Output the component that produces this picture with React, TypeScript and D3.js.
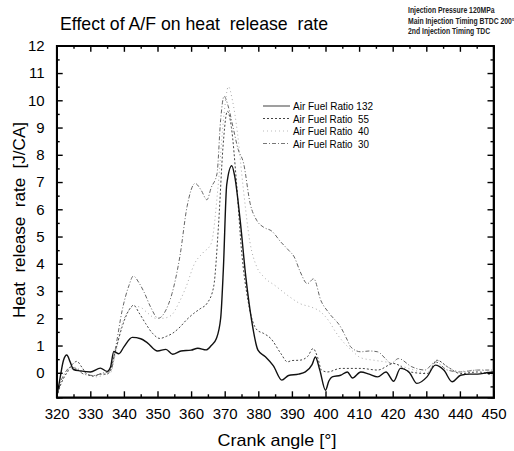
import React, { useEffect, useRef } from 'react';
import * as d3 from 'd3';

// crank angle [deg] / heat release rate [J/CA]
const afr132Deg = [320, 321, 322, 323, 324, 325, 327, 330, 333, 335, 336, 337, 338.5, 340, 342.5, 345, 347, 350, 352.5, 354.5, 357, 360, 362, 364.5, 366, 367.5, 368.8, 369.6, 370.6, 372.1, 373, 374.6, 376.3, 378, 379.9, 382, 384.5, 387, 389, 392, 394, 396, 397, 398.3, 400, 401, 402, 404.5, 406.5, 408, 410.5, 413, 415.5, 418, 420.3, 422.3, 425, 427.2, 430.2, 432.7, 435.2, 437.7, 440.2, 443, 445.3, 448, 450];
const afr132Val = [-0.9, -0.2, 0.45, 0.65, 0.4, 0.12, 0.07, 0.03, 0.17, 0.05, 0.2, 0.78, 0.7, 0.95, 1.3, 1.25, 1.1, 0.8, 0.86, 0.68, 0.8, 0.83, 0.9, 0.84, 1.0, 1.25, 2.0, 3.8, 6.9, 7.6, 7.2, 5.6, 3.5, 1.93, 0.83, 0.6, 0.25, -0.27, -0.1, -0.05, 0.03, 0.3, 0.58, 0.1, -0.64, -0.3, -0.15, -0.09, 0.03, -0.19, 0.03, -0.05, -0.15, 0.03, -0.31, 0.16, 0.0, -0.39, -0.15, 0.28, 0.1, -0.33, -0.09, -0.05, -0.05, 0.0, 0.03];

const afr55Deg = [320, 321, 323, 325, 326, 327.5, 329, 331, 333, 335, 336, 337.5, 339.5, 341.5, 342.9, 344.5, 346.5, 348.5, 350.7, 352.7, 354.5, 356.7, 358.7, 360.7, 362.7, 364.7, 366.7, 368.2, 369.5, 370.8, 372, 373.5, 375, 377, 379.7, 381.5, 383.7, 386.7, 388.7, 390, 392.3, 394.7, 396.3, 397.7, 398.8, 400.6, 404.5, 410.5, 415.5, 420.3, 425.3, 430.3, 433.2, 436.3, 440.2, 445.3, 449.5];
const afr55Val = [-0.9, -0.5, 0.0, 0.35, 0.42, 0.2, -0.05, -0.12, -0.05, -0.05, 0.1, 0.8, 1.7, 2.3, 2.48, 2.2, 1.8, 1.45, 1.26, 1.34, 1.45, 1.68, 1.95, 2.17, 2.35, 2.54, 3.15, 5.5, 8.3, 9.6, 9.0, 7.0, 4.5, 2.6, 1.56, 1.45, 1.26, 0.71, 0.4, 0.45, 0.46, 0.6, 0.89, 0.55, 0.1, 0.03, 0.16, 0.16, 0.1, 0.34, 0.03, -0.03, 0.46, 0.22, -0.03, 0.03, -0.09];

const afr40Deg = [320, 321.5, 323.5, 325.5, 327, 329.5, 332, 334.5, 336, 337.5, 339.5, 341.5, 343, 345, 347, 349.5, 351.5, 354, 356.5, 358.5, 361, 363.5, 366, 368, 369.8, 371.1, 372.3, 373.8, 375.5, 377.5, 379.5, 381.7, 385, 389.4, 392.4, 396, 398.4, 401, 403, 405.5, 408, 410.5, 415, 420, 425, 430, 433.2, 436.5, 440, 445, 449.5];
const afr40Val = [-0.9, -0.3, 0.05, 0.2, 0.1, -0.1, -0.15, -0.05, 0.0, 0.7, 1.8, 2.3, 2.45, 2.4, 2.2, 2.0, 2.0, 2.1, 2.6, 3.15, 4.0, 4.4, 4.75, 6.8, 9.5, 10.5, 10.0, 8.8, 6.8, 4.8, 3.9, 3.51, 3.2, 2.78, 2.54, 2.4, 2.25, 1.9, 1.5, 1.1, 0.8, 0.55, 0.45, 0.35, 0.15, 0.0, 0.45, 0.2, 0.05, 0.1, 0.05];

const afr30Deg = [320, 321, 322.5, 324, 326, 328, 331, 334, 336, 337.5, 339.5, 341.5, 342.8, 344.5, 346, 348, 350.2, 352.5, 354.3, 356.7, 358.8, 361.2, 363, 364.7, 366, 367.7, 368.8, 369.8, 371, 372.5, 374, 375.6, 377.6, 379.5, 381.6, 384, 386.7, 389, 390.7, 392.5, 394.6, 396.5, 398.6, 401, 404.5, 406.5, 407.5, 410.5, 413, 415.5, 418, 419.5, 421.7, 425.7, 429.6, 432.7, 436.3, 440.2, 445.3, 449.5];
const afr30Val = [-0.9, -0.4, 0.0, 0.2, 0.15, -0.05, -0.1, 0.0, 0.05, 0.9, 2.3, 3.2, 3.55, 3.3, 2.96, 2.4, 2.0, 2.3, 2.9, 4.3, 6.1, 6.95, 6.7, 6.35, 6.8, 7.3, 9.3, 10.15, 9.8, 9.0, 8.2, 7.7, 6.2, 5.6, 5.34, 5.2, 4.8, 4.5, 4.25, 3.7, 3.27, 3.45, 2.66, 2.2, 1.68, 1.2, 0.95, 0.77, 0.8, 0.77, 0.5, 0.34, 0.52, 0.22, 0.1, 0.4, 0.1, 0.03, 0.1, 0.1];

const seriesNames = ['Air Fuel Ratio 132', 'Air Fuel Ratio  55', 'Air Fuel Ratio  40', 'Air Fuel Ratio  30'];
const xTicks = [320, 330, 340, 350, 360, 370, 380, 390, 400, 410, 420, 430, 440, 450];
const yTicks = [0, 1, 2, 3, 4, 5, 6, 7, 8, 9, 10, 11, 12];
const notes = ['Injection Pressure 120MPa', 'Main Injection Timing BTDC 200°', '2nd Injection Timing TDC'];

const FONT = 'Liberation Sans, Arial, sans-serif';

function App() {
  const svgRef = useRef(null);

  useEffect(() => {
    const svg = d3.select(svgRef.current);
    svg.selectAll('*').remove();

    const x = d3.scaleLinear().domain([320, 450]).range([56.7, 493.5]);
    const y = d3.scaleLinear().domain([-0.9, 12]).range([397.3, 45.8]);

    const series = [
      { deg: afr132Deg, val: afr132Val, color: '#111', width: 1.4, dash: null, legendColor: '#888' },
      { deg: afr55Deg, val: afr55Val, color: '#444', width: 1, dash: '2,2', legendColor: '#444' },
      { deg: afr40Deg, val: afr40Val, color: '#aaa', width: 1, dash: '1,3', legendColor: '#bbb' },
      { deg: afr30Deg, val: afr30Val, color: '#666', width: 1, dash: '4,2,1,2', legendColor: '#777' },
    ];

    const line = d3.line()
      .x((d) => x(d[0]))
      .y((d) => y(d[1]))
      .curve(d3.curveMonotoneX);

    const plot = svg.append('g');
    series.slice().reverse().forEach((s) => {
      plot.append('path')
        .attr('d', line(d3.zip(s.deg, s.val)))
        .attr('fill', 'none')
        .attr('stroke', s.color)
        .attr('stroke-width', s.width)
        .attr('stroke-dasharray', s.dash);
    });

    // axes, ticks pointing inwards on every side
    const minorX = d3.range(325, 450, 10);
    const minorY = d3.range(-0.5, 12, 1);
    const bottom = svg.append('g').attr('transform', `translate(0,${y(-0.9)})`)
      .call(d3.axisBottom(x).tickValues(xTicks).tickSize(-6).tickPadding(11).tickFormat(d3.format('d')));
    svg.append('g').attr('transform', `translate(0,${y(-0.9)})`)
      .call(d3.axisBottom(x).tickValues(minorX).tickSize(-3).tickFormat(() => ''));
    svg.append('g').attr('transform', `translate(0,${y(12)})`)
      .call(d3.axisTop(x).tickValues(xTicks).tickSize(-6).tickFormat(() => ''));
    svg.append('g').attr('transform', `translate(0,${y(12)})`)
      .call(d3.axisTop(x).tickValues(minorX).tickSize(-3).tickFormat(() => ''));
    const left = svg.append('g').attr('transform', `translate(${x(320)},0)`)
      .call(d3.axisLeft(y).tickValues(yTicks).tickSize(-6).tickPadding(12).tickFormat(d3.format('d')));
    svg.append('g').attr('transform', `translate(${x(320)},0)`)
      .call(d3.axisLeft(y).tickValues(minorY).tickSize(-3).tickFormat(() => ''));
    svg.append('g').attr('transform', `translate(${x(450)},0)`)
      .call(d3.axisRight(y).tickValues(yTicks).tickSize(-6).tickFormat(() => ''));
    svg.append('g').attr('transform', `translate(${x(450)},0)`)
      .call(d3.axisRight(y).tickValues(minorY).tickSize(-3).tickFormat(() => ''));

    svg.selectAll('.domain').attr('stroke', '#000').attr('stroke-width', 1.6);
    svg.selectAll('.tick line').attr('stroke', '#000').attr('stroke-width', 1.4);
    bottom.selectAll('text').attr('font-size', 15).attr('font-family', FONT).attr('fill', '#000');
    left.selectAll('text').attr('font-size', 15).attr('font-family', FONT).attr('fill', '#000');

    svg.append('rect')
      .attr('x', x(320)).attr('y', y(12))
      .attr('width', x(450) - x(320)).attr('height', y(-0.9) - y(12))
      .attr('fill', 'none').attr('stroke', '#000').attr('stroke-width', 1.6);

    // legend
    const lg = svg.append('g');
    series.forEach((s, i) => {
      const ly = 106 + i * 12.5;
      lg.append('line')
        .attr('x1', 263).attr('x2', 290).attr('y1', ly).attr('y2', ly)
        .attr('stroke', s.legendColor).attr('stroke-width', i === 0 ? 1.6 : 1)
        .attr('stroke-dasharray', s.dash);
      lg.append('text')
        .attr('x', 293).attr('y', ly + 4)
        .attr('font-size', 11).attr('font-family', FONT)
        .attr('textLength', i === 0 ? 80 : 76).attr('lengthAdjust', 'spacingAndGlyphs')
        .attr('xml:space', 'preserve')
        .text(seriesNames[i]);
    });

    // titles
    svg.append('text')
      .attr('x', 60).attr('y', 30)
      .attr('font-size', 19).attr('font-family', FONT)
      .attr('textLength', 268).attr('lengthAdjust', 'spacingAndGlyphs')
      .attr('xml:space', 'preserve')
      .text('Effect of A/F on heat  release  rate');

    notes.forEach((t, i) => {
      svg.append('text')
        .attr('transform', `translate(408,${13 + i * 10.5}) scale(0.72,1)`)
        .attr('font-size', 9.5).attr('font-family', FONT)
        .attr('font-weight', 'bold')
        .attr('fill', '#222')
        .text(t);
    });

    svg.append('text')
      .attr('transform', 'translate(25,220) rotate(-90)')
      .attr('text-anchor', 'middle')
      .attr('font-size', 17).attr('font-family', FONT)
      .attr('textLength', 196).attr('lengthAdjust', 'spacingAndGlyphs')
      .attr('xml:space', 'preserve')
      .text('Heat  release  rate  [J/CA]');

    svg.append('text')
      .attr('x', 277).attr('y', 446)
      .attr('text-anchor', 'middle')
      .attr('font-size', 17).attr('font-family', FONT)
      .attr('textLength', 119).attr('lengthAdjust', 'spacingAndGlyphs')
      .text('Crank angle [°]');
  }, []);

  return (
    <div style={{ position: 'absolute', left: 0, top: 0 }}>
      <svg ref={svgRef} width={514} height={451} style={{ display: 'block', background: '#fff' }} />
    </div>
  );
}

export default App;
